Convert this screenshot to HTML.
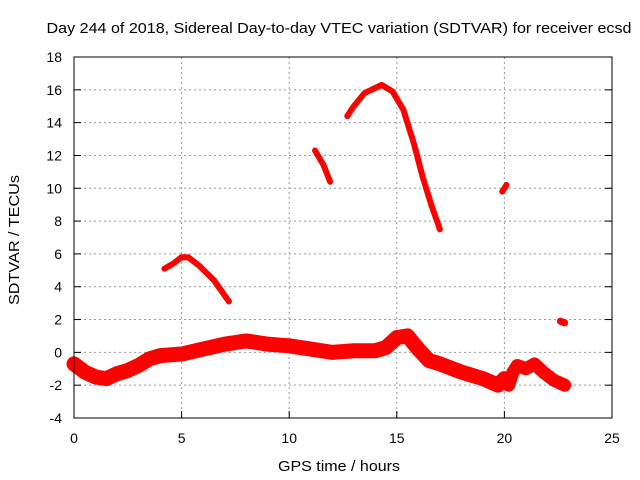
<!DOCTYPE html>
<html><head><meta charset="utf-8"><style>
body{margin:0;background:#fff}
svg{display:block;font-family:"Liberation Sans",sans-serif}
</style></head><body>
<svg id="c" width="640" height="480">
<text x="339" y="33" text-anchor="middle" font-size="15" textLength="585" lengthAdjust="spacingAndGlyphs">Day 244 of 2018, Sidereal Day-to-day VTEC variation (SDTVAR) for receiver ecsd</text>
<text x="339" y="471" text-anchor="middle" font-size="15" textLength="122" lengthAdjust="spacingAndGlyphs">GPS time / hours</text>
<text transform="translate(19,240) rotate(-90)" text-anchor="middle" font-size="15" textLength="130" lengthAdjust="spacingAndGlyphs">SDTVAR / TECUs</text>
<g id="grid"></g><g id="marks"></g>
<rect x="74" y="57" width="538" height="361" fill="none" stroke="#000"/>
</svg>
<script>
const xTicks=[0,5,10,15,20,25];
const yTicks=[-4,-2,0,2,4,6,8,10,12,14,16,18];
const lowerBand=[[0,-0.7],[0.5,-1.2],[1,-1.5],[1.5,-1.6],[2,-1.3],[2.5,-1.1],[3,-0.8],[3.5,-0.4],[4,-0.2],[5,-0.1],[6,0.2],[7,0.5],[8,0.7],[9,0.5],[10,0.4],[11,0.2],[12,0],[13,0.1],[14,0.1],[14.5,0.3],[15,0.9],[15.5,1.0],[16,0.2],[16.5,-0.5],[17,-0.7],[18,-1.2],[19,-1.6],[19.7,-2.0],[20,-1.6]];
const lowerBand2=[[20.2,-2.0],[20.4,-1.2],[20.6,-0.8],[21,-1.0],[21.4,-0.7],[21.8,-1.2],[22.3,-1.7],[22.8,-2.0]];
const segA=[[4.2,5.1],[4.6,5.4],[5,5.8],[5.3,5.8],[5.8,5.3],[6.5,4.4],[7.2,3.1]];
const segB=[[11.2,12.3],[11.6,11.4],[11.9,10.4]];
const segC=[[12.7,14.4],[13,15],[13.5,15.8],[14.3,16.3],[14.8,15.9],[15.3,14.8],[15.8,12.7],[16.2,10.7],[16.6,9],[17,7.5]];
const segD=[[19.9,9.8],[20.1,10.2]];
const segE=[[22.6,1.9],[22.8,1.8]];
const X=h=>74+h*538/25, Y=v=>418-(v+4)*361/22;
const ns='http://www.w3.org/2000/svg';
const grid=document.getElementById('grid'), marks=document.getElementById('marks');
function mk(tag,attrs,parent){const e=document.createElementNS(ns,tag);for(const k in attrs)e.setAttribute(k,attrs[k]);parent.appendChild(e);return e;}
xTicks.forEach(t=>{
 const gl=mk('line',{x1:X(t),x2:X(t),y1:57,y2:418,stroke:'#999','stroke-dasharray':'2,3'},grid);
 
 
 const tk=mk('line',{x1:X(t),x2:X(t),y1:418,y2:411,stroke:'#000'},grid);
 
 
 const tx=mk('text',{x:X(t),y:443,'text-anchor':'middle','font-size':14},grid);tx.textContent=t;
 
 
});
yTicks.forEach(t=>{
 const gl=mk('line',{x1:74,x2:612,y1:Y(t),y2:Y(t),stroke:'#999','stroke-dasharray':'2,3'},grid);
 
 
 const tk=mk('line',{x1:74,x2:81,y1:Y(t),y2:Y(t),stroke:'#000'},grid);
 
 
 const tk2=mk('line',{x1:605,x2:612,y1:Y(t),y2:Y(t),stroke:'#000'},grid);
 
 
 const tx=mk('text',{x:62,y:Y(t)+5,'text-anchor':'end','font-size':14},grid);tx.textContent=t;
 
 
});
function series(data,w,name){
 const p=mk('polyline',{points:data.map(d=>X(d[0])+','+Y(d[1])).join(' '),fill:'none',stroke:'#f00','stroke-width':w,'stroke-linejoin':'round','stroke-linecap':'round'},marks);
 
 
}
series(lowerBand,15,'lower-band');
series(lowerBand2,13,'lower-band-late');
series(segA,6,'segment-a');
series(segB,6,'segment-b');
series(segC,6,'segment-c');
series(segD,6,'segment-d');
series(segE,7,'segment-e');
</script>
</body></html>
